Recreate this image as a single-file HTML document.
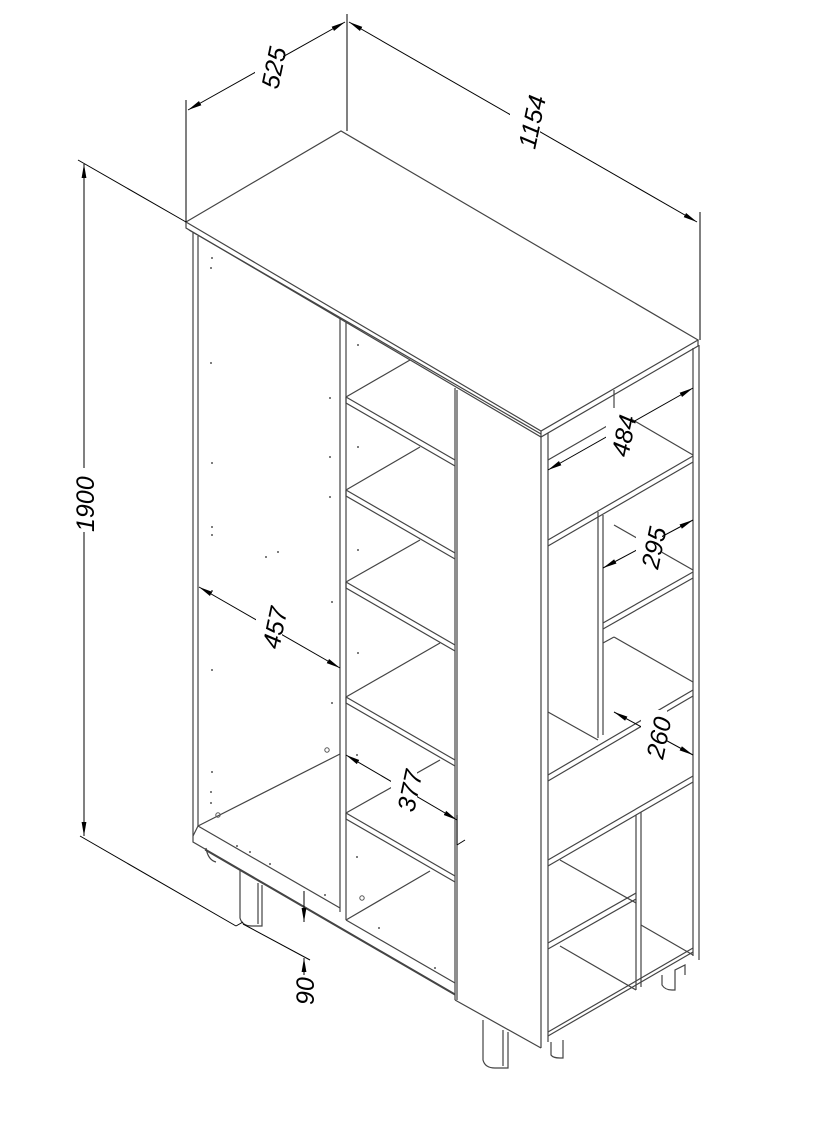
<!DOCTYPE html>
<html><head><meta charset="utf-8"><style>
html,body{margin:0;padding:0;background:#fff;}
svg{display:block;}
text{font-family:"Liberation Sans",sans-serif;font-size:25px;font-style:italic;fill:#000;}
</style></head><body>
<svg width="814" height="1139" viewBox="0 0 814 1139" xmlns="http://www.w3.org/2000/svg">
<defs>
<marker id="a" viewBox="0 0 10 10" refX="10" refY="5" markerWidth="14" markerHeight="6" markerUnits="userSpaceOnUse" orient="auto-start-reverse" preserveAspectRatio="none"><path d="M0,1 L10,5 L0,9 z" fill="#000"/></marker>
</defs>
<g stroke="#444" stroke-width="1.2" fill="none">
<path d="M186,222 L341,131 L698,340 L541,431 Z" fill="#fff"/>
<path d="M186,222 L186,228 L541,437 L698,346 L698,340"/>
<line x1="541" y1="431" x2="541" y2="437"/>
<line x1="189" y1="230" x2="541" y2="434"/>
<line x1="193" y1="232" x2="193" y2="836"/>
<line x1="198" y1="236" x2="198" y2="826"/>
<line x1="340" y1="318" x2="340" y2="912"/>
<line x1="346" y1="322" x2="346" y2="920"/>
<line x1="455" y1="388" x2="455" y2="1000"/>
<line x1="457" y1="390" x2="457" y2="1000"/>
<line x1="541" y1="437" x2="541" y2="1048"/>
<line x1="548" y1="433" x2="548" y2="1042"/>
<line x1="693" y1="348" x2="693" y2="956"/>
<line x1="699" y1="345" x2="699" y2="960"/>
<line x1="198" y1="826" x2="340" y2="754"/>
<path d="M193,836 L193,842 L455,994"/>
<line x1="198" y1="826" x2="340" y2="908"/>
<line x1="193" y1="836" x2="198" y2="826"/>
<path d="M205,850 L455,995"/>
<line x1="346" y1="920" x2="430" y2="871"/>
<line x1="346" y1="920" x2="455" y2="983"/>
<line x1="455" y1="1000" x2="541" y2="1048"/>
<g>
<path d="M346,397 L410,360"/><path d="M346,397 L346,403 L455,466"/><path d="M346,397 L455,460"/>
<path d="M346,490 L420,447"/><path d="M346,490 L346,496 L455,559"/><path d="M346,490 L455,553"/>
<path d="M346,582 L420,540"/><path d="M346,582 L346,588 L455,651"/><path d="M346,582 L455,645"/>
<path d="M346,697 L440,643"/><path d="M346,697 L346,703 L455,766"/><path d="M346,697 L455,760"/>
<path d="M346,813 L440,760"/><path d="M346,813 L346,819 L455,882"/><path d="M346,813 L455,876"/>
</g>
<path d="M548,540 L693,456"/><path d="M548,546 L693,462"/>
<line x1="548" y1="460" x2="614" y2="422"/>
<line x1="614" y1="390" x2="614" y2="422"/>
<line x1="614" y1="409" x2="693" y2="455"/>
<line x1="598" y1="512" x2="598" y2="738"/><line x1="603" y1="515" x2="603" y2="735"/>
<path d="M603,623 L693,572"/><path d="M603,629 L693,578"/>
<line x1="614" y1="525" x2="693" y2="570"/>
<line x1="603" y1="643" x2="614" y2="637"/>
<line x1="614" y1="637" x2="693" y2="682"/>
<path d="M548,775 L693,690"/><path d="M548,781 L693,696"/>
<line x1="548" y1="712" x2="598" y2="740"/>
<path d="M548,860 L693,776"/><path d="M548,866 L693,782"/>
<line x1="636" y1="815" x2="636" y2="990"/><line x1="641" y1="812" x2="641" y2="987"/>
<path d="M548,943 L636,893"/><path d="M548,949 L636,899"/>
<line x1="560" y1="860" x2="636" y2="903"/>
<line x1="560" y1="946" x2="636" y2="990"/>
<line x1="641" y1="925" x2="693" y2="955"/>
<path d="M548,1032 L693,948"/><path d="M548,1036 L693,952"/>
<path d="M240,870 L240,918 Q242,926 252,926 L262,926 L262,885"/>
<line x1="258" y1="883" x2="258" y2="924"/>
<path d="M483,1020 L483,1060 Q485,1068 495,1068 L508,1068 L508,1032"/>
<line x1="503" y1="1030" x2="503" y2="1066"/>
<path d="M551,1042 L551,1055 Q553,1058 560,1058 L563,1058 L563,1040"/>
<path d="M662,975 L662,985 Q665,990 672,990 L675,990 L675,970 L685,965 L685,975"/>
<path d="M206,848 Q208,860 216,862"/>
</g>
<g fill="#555">
<circle cx="212" cy="258" r="1"/><circle cx="211" cy="268" r="1"/><circle cx="211" cy="363" r="1"/>
<circle cx="330" cy="398" r="1"/><circle cx="212" cy="463" r="1"/><circle cx="330" cy="457" r="1"/>
<circle cx="212" cy="527" r="1"/><circle cx="212" cy="535" r="1"/><circle cx="330" cy="497" r="1"/>
<circle cx="266" cy="557" r="1"/><circle cx="278" cy="552" r="1"/><circle cx="212" cy="591" r="1"/>
<circle cx="332" cy="602" r="1"/><circle cx="212" cy="670" r="1"/><circle cx="332" cy="703" r="1"/>
<circle cx="212" cy="772" r="1"/><circle cx="211" cy="792" r="1"/><circle cx="211" cy="803" r="1"/>
<circle cx="237" cy="846" r="1"/><circle cx="250" cy="852" r="1"/><circle cx="270" cy="864" r="1"/>
<circle cx="325" cy="895" r="1"/><circle cx="379" cy="928" r="1"/><circle cx="435" cy="968" r="1"/>
<circle cx="358" cy="345" r="1"/><circle cx="358" cy="447" r="1"/><circle cx="358" cy="550" r="1"/><circle cx="358" cy="653" r="1"/><circle cx="357" cy="755" r="1"/><circle cx="357" cy="857" r="1"/>
</g>
<g stroke="#555" fill="none"><circle cx="327" cy="750" r="2.2"/><circle cx="218" cy="815" r="2.2"/><circle cx="362" cy="898" r="2.2"/></g>
<g stroke="#000" stroke-width="1" fill="none">
<line x1="186" y1="100" x2="186" y2="222"/>
<line x1="347" y1="14" x2="347" y2="131"/>
<line x1="188" y1="110" x2="345" y2="22" marker-start="url(#a)" marker-end="url(#a)"/>
<line x1="349" y1="22" x2="697" y2="222" marker-start="url(#a)" marker-end="url(#a)"/>
<line x1="700" y1="212" x2="700" y2="340"/>
<line x1="78" y1="160" x2="186" y2="222"/>
<line x1="84" y1="164" x2="84" y2="836" marker-start="url(#a)" marker-end="url(#a)"/>
<line x1="80" y1="836" x2="236" y2="926"/>
<line x1="236" y1="926" x2="243" y2="922"/>
<line x1="199" y1="587" x2="340" y2="668" marker-start="url(#a)" marker-end="url(#a)"/>
<line x1="346" y1="755" x2="457" y2="820" marker-start="url(#a)" marker-end="url(#a)"/>
<line x1="457" y1="815" x2="457" y2="845"/><line x1="457" y1="845" x2="465" y2="840"/>
<line x1="304" y1="891" x2="304" y2="922" marker-end="url(#a)"/>
<line x1="304" y1="975" x2="304" y2="958" marker-end="url(#a)"/>
<line x1="243" y1="924" x2="310" y2="960"/>
<line x1="548" y1="470" x2="693" y2="388" marker-start="url(#a)" marker-end="url(#a)"/>
<line x1="603" y1="568" x2="693" y2="520" marker-start="url(#a)" marker-end="url(#a)"/>
<line x1="614" y1="712" x2="693" y2="755" marker-start="url(#a)" marker-end="url(#a)"/>
</g>
<g>
<rect x="255" y="46" width="28" height="44" fill="#fff"/>
<text transform="translate(278,90) rotate(-78)">525</text>
<rect x="510" y="92" width="30" height="58" fill="#fff"/>
<text transform="translate(535,150) rotate(-78)">1154</text>
<rect x="72" y="468" width="24" height="64" fill="#fff"/>
<text transform="translate(94,532) rotate(-90)">1900</text>
<rect x="256" y="602" width="26" height="48" fill="#fff"/>
<text transform="translate(279,650) rotate(-78)">457</text>
<rect x="391" y="763" width="26" height="50" fill="#fff"/>
<text transform="translate(414,813) rotate(-78)">377</text>
<text transform="translate(314,1005) rotate(-90)">90</text>
<rect x="606" y="408" width="26" height="50" fill="#fff"/>
<text transform="translate(628,458) rotate(-78)">484</text>
<rect x="636" y="520" width="26" height="50" fill="#fff"/>
<text transform="translate(658,570) rotate(-78)">295</text>
<rect x="641" y="710" width="26" height="50" fill="#fff"/>
<text transform="translate(663,760) rotate(-78)">260</text>
</g>
</svg>
</body></html>
